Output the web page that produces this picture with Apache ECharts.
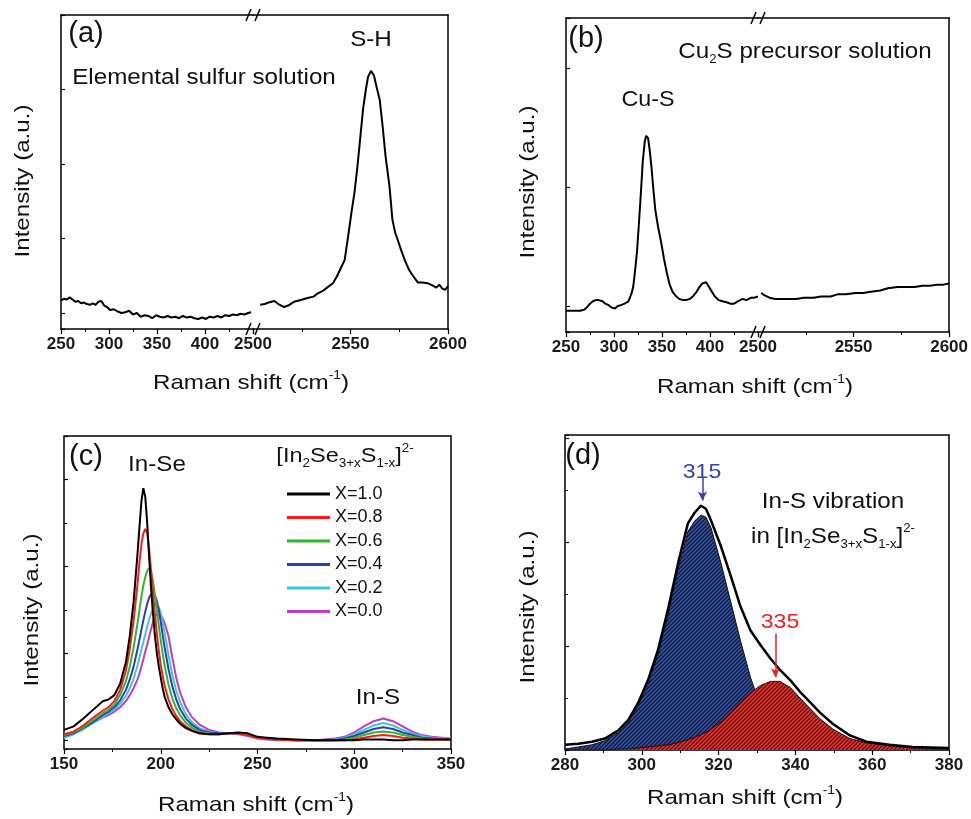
<!DOCTYPE html>
<html>
<head>
<meta charset="utf-8">
<script src="https://cdn.jsdelivr.net/npm/echarts@6/dist/echarts.min.js"></script>
<style>
html, body { margin: 0; padding: 0; background: #fff; }
#chart { width: 971px; height: 819px; }
</style>
</head>
<body>
<div id="chart"></div>
<script>
// (a) elemental sulfur solution, two pieces of the broken axis
var aLeftX = [250,253,256,259,262,265,268,271,274,277,280,283,286,289,292,295,298,301,305,309,313,317,321,325,329,333,337,341,345,349,353,357,361,365,369,373,377,381,385,389,393,397,401,405,409,413,417,421,425,429,433,437,441,445,448];
var aLeftY = [0.17,0.19,0.18,0.21,0.18,0.15,0.16,0.13,0.14,0.12,0.11,0.13,0.11,0.15,0.16,0.10,0.08,0.04,0.05,0.02,0.00,0.01,0.03,-0.02,0.00,-0.05,-0.03,-0.04,-0.07,-0.03,-0.05,-0.06,-0.04,-0.06,-0.05,-0.07,-0.04,-0.06,-0.05,-0.07,-0.08,-0.06,-0.08,-0.05,-0.06,-0.04,-0.06,-0.03,-0.04,-0.02,-0.03,-0.01,-0.02,0.00,0.01];
var aRightX = [2503.7,2506,2508,2511,2513,2516,2518,2521,2524,2528,2531,2533,2536,2538,2541,2543,2545,2547,2549,2550.5,2552,2553.5,2555,2556.5,2558,2559,2560.5,2562,2563.5,2565,2566.5,2568,2570,2571.5,2573,2574.5,2576,2578,2580,2582,2584.5,2587,2589.5,2592,2594,2595.5,2597,2598.5,2600];
var aRightY = [0.11,0.12,0.14,0.16,0.12,0.08,0.10,0.15,0.17,0.20,0.22,0.26,0.30,0.34,0.40,0.49,0.60,0.71,1.07,1.35,1.61,1.95,2.35,2.75,3.02,3.17,3.25,3.19,3.02,2.86,2.50,2.10,1.70,1.25,1.07,0.96,0.84,0.70,0.58,0.50,0.41,0.41,0.40,0.37,0.34,0.38,0.33,0.31,0.36];

// (b) Cu2S precursor solution
var bLeftX = [250,258,265,269,272,275,278,281,284,288,291,294,297,301,304,308,311,315,318,320,322,324,326,328,330,332,333.5,335.5,337,339,341,343,346,349,352,355,358,361,365,368,372,375,379,382,386,389,392,396,399,402,405,409,413,418,421,425,429,434,438,443,446,450];
var bLeftY = [-0.04,-0.04,-0.04,-0.03,-0.01,0.02,0.04,0.05,0.05,0.04,0.02,0.01,-0.01,-0.02,0.00,0.01,0.02,0.04,0.10,0.16,0.30,0.46,0.70,0.95,1.22,1.38,1.43,1.41,1.32,1.17,0.98,0.81,0.66,0.54,0.40,0.28,0.18,0.12,0.08,0.06,0.05,0.05,0.06,0.08,0.12,0.16,0.19,0.20,0.16,0.12,0.08,0.05,0.04,0.03,0.02,0.02,0.04,0.06,0.05,0.07,0.07,0.08];
var bRightX = [2501.7,2503.5,2506,2509,2513,2516,2520,2524,2529,2533,2538,2542,2546,2551,2555,2559,2564,2568,2573,2577,2582,2586,2590,2594,2597,2600];
var bRightY = [0.11,0.09,0.07,0.06,0.06,0.06,0.06,0.07,0.07,0.08,0.08,0.10,0.10,0.11,0.11,0.12,0.13,0.15,0.16,0.16,0.16,0.17,0.17,0.18,0.18,0.19];

// (c) [In2Se3+xS1-x]2- series
var cNames = ['X=1.0','X=0.8','X=0.6','X=0.4','X=0.2','X=0.0'];
var cColors = ['#000000','#ff1a1a','#2db82d','#2f3fa8','#3cc8dc','#c23cc2'];
var cX = [150,155,160,165,170,173,176,179,182,184,186,188,189,190,191,192,193,194,195,196,197,198,199,200,201,202,204,206,208,210,213,216,220,225,230,235,240,245,250,255,260,270,280,290,295,300,305,310,315,320,325,330,335,340,350];
var cY10 = [0.12,0.16,0.25,0.35,0.45,0.47,0.52,0.65,0.90,1.20,1.60,2.15,2.45,2.75,2.90,2.80,2.50,2.10,1.75,1.45,1.20,1.00,0.85,0.72,0.60,0.50,0.38,0.30,0.24,0.19,0.14,0.11,0.08,0.07,0.07,0.08,0.09,0.08,0.04,0.03,0.02,0.01,0.00,0.00,0.00,0.00,0.01,0.01,0.01,0.00,0.00,0.01,0.01,0.01,0.01];
var cY08 = [0.07,0.10,0.17,0.26,0.34,0.38,0.45,0.58,0.80,1.05,1.38,1.80,2.05,2.25,2.38,2.43,2.38,2.20,1.95,1.70,1.45,1.22,1.03,0.87,0.74,0.63,0.47,0.36,0.28,0.22,0.16,0.12,0.08,0.07,0.07,0.08,0.08,0.06,0.03,0.02,0.01,0.00,0.00,0.00,0.00,0.01,0.03,0.05,0.06,0.05,0.03,0.02,0.01,0.01,0.01];
var cY06 = [0.06,0.09,0.15,0.23,0.31,0.35,0.41,0.52,0.68,0.85,1.07,1.35,1.50,1.65,1.78,1.88,1.95,1.98,1.94,1.83,1.67,1.50,1.32,1.15,1.00,0.86,0.64,0.48,0.37,0.29,0.20,0.15,0.10,0.08,0.07,0.08,0.08,0.06,0.03,0.02,0.01,0.00,0.00,0.00,0.01,0.03,0.06,0.09,0.10,0.09,0.06,0.04,0.02,0.01,0.01];
var cY04 = [0.05,0.08,0.14,0.21,0.29,0.33,0.38,0.46,0.58,0.70,0.85,1.05,1.16,1.27,1.38,1.48,1.57,1.64,1.68,1.70,1.67,1.60,1.50,1.36,1.21,1.07,0.82,0.62,0.47,0.36,0.25,0.18,0.12,0.09,0.08,0.08,0.08,0.06,0.03,0.02,0.01,0.00,0.00,0.00,0.02,0.05,0.09,0.13,0.15,0.13,0.09,0.06,0.03,0.02,0.01];
var cY02 = [0.03,0.07,0.13,0.20,0.27,0.31,0.35,0.42,0.51,0.60,0.71,0.86,0.95,1.04,1.13,1.22,1.31,1.39,1.46,1.51,1.55,1.56,1.53,1.46,1.36,1.24,0.98,0.75,0.57,0.44,0.30,0.21,0.14,0.10,0.08,0.08,0.08,0.06,0.03,0.02,0.01,0.00,0.00,0.01,0.03,0.07,0.12,0.17,0.20,0.17,0.12,0.08,0.05,0.03,0.02];
var cY00 = [0.04,0.08,0.14,0.20,0.26,0.29,0.33,0.38,0.45,0.52,0.60,0.70,0.77,0.85,0.93,1.02,1.10,1.19,1.28,1.36,1.42,1.45,1.46,1.44,1.40,1.35,1.20,0.95,0.72,0.55,0.38,0.27,0.18,0.12,0.09,0.08,0.07,0.05,0.02,0.01,0.00,0.00,0.00,0.02,0.04,0.09,0.16,0.22,0.25,0.22,0.16,0.10,0.06,0.04,0.02];
var cYs = [cY10, cY08, cY06, cY04, cY02, cY00];

// (d) In-S band and its two fitted components
var dX = [280,283.5,287,290.4,293.9,296.5,299,301.6,304.2,306.8,309.4,312,313.7,315.4,316.7,318,320.6,323.2,325.7,328.3,330.9,333.5,336,338.7,341.2,343.8,346.4,349.8,354.2,358.5,364.5,370.5,380];
var dTotal = [0.05,0.06,0.08,0.11,0.19,0.29,0.45,0.67,0.96,1.35,1.79,2.18,2.28,2.35,2.32,2.21,1.96,1.67,1.38,1.15,1.01,0.88,0.77,0.67,0.56,0.46,0.36,0.25,0.14,0.08,0.05,0.03,0.02];
var d315 = [0.01,0.03,0.05,0.09,0.17,0.27,0.42,0.63,0.92,1.30,1.73,2.10,2.20,2.26,2.24,2.14,1.80,1.42,1.05,0.70,0.42,0.22,0.10,0.04,0.01,0,0,0,0,0,0,0,0];
var d335 = [0,0,0,0,0.01,0.01,0.02,0.03,0.04,0.05,0.07,0.10,0.12,0.15,0.17,0.20,0.27,0.36,0.46,0.55,0.62,0.66,0.66,0.60,0.50,0.40,0.30,0.20,0.11,0.07,0.04,0.02,0.01];

var FONT = "'Liberation Sans', Arial, sans-serif";

function pairs(xs, ys) {
  return xs.map(function (x, i) { return [x, ys[i]]; });
}

// hatch pattern for the fitted peaks
function hatch(bg, ink) {
  var c = document.createElement('canvas');
  c.width = 4; c.height = 4;
  var g = c.getContext('2d');
  g.fillStyle = bg;
  g.fillRect(0, 0, 4, 4);
  g.strokeStyle = ink;
  g.lineWidth = 1.2;
  g.beginPath();
  g.moveTo(-1, 5); g.lineTo(5, -1);
  g.moveTo(-1, 1); g.lineTo(1, -1);
  g.moveTo(3, 5); g.lineTo(5, 3);
  g.stroke();
  return c;
}

var black = { color: '#000', width: 1.5 };

function bottomX(gi, min, max, interval, hideMax, lineOn) {
  return {
    type: 'value', gridIndex: gi, position: 'bottom', min: min, max: max, interval: interval,
    axisLine: { show: lineOn, onZero: false, lineStyle: black },
    axisTick: { show: true, inside: false, length: 5, lineStyle: { color: '#000', width: 1.2 } },
    minorTick: { show: true, splitNumber: 2, length: 3, lineStyle: { color: '#000', width: 1 } },
    splitLine: { show: false },
    axisLabel: {
      show: true, margin: 7, color: '#1a1a1a', fontFamily: FONT, fontSize: 17, fontWeight: 'bold',
      showMaxLabel: !hideMax, showMinLabel: true,
      formatter: function (v) { return (hideMax && v === max) ? '' : String(v); }
    }
  };
}
function topX(gi, min, max) {
  return {
    type: 'value', gridIndex: gi, position: 'top', min: min, max: max,
    axisLine: { show: true, onZero: false, lineStyle: black },
    axisTick: { show: false }, axisLabel: { show: false }, splitLine: { show: false }
  };
}
function leftY(gi, min, max, split, interval, minor, lineOn) {
  var ax = {
    type: 'value', gridIndex: gi, position: 'left', min: min, max: max,
    axisLine: { show: lineOn, onZero: false, lineStyle: black },
    axisTick: { show: true, inside: true, length: 4, lineStyle: { color: '#000', width: 1.2 } },
    minorTick: { show: minor, splitNumber: 2, length: 3, lineStyle: { color: '#000', width: 1 } },
    axisLabel: { show: false }, splitLine: { show: false }
  };
  if (interval) ax.interval = interval; else ax.splitNumber = split;
  return ax;
}
function rightY(gi, min, max) {
  return {
    type: 'value', gridIndex: gi, position: 'right', min: min, max: max,
    axisLine: { show: true, onZero: false, lineStyle: black },
    axisTick: { show: false }, axisLabel: { show: false }, splitLine: { show: false }
  };
}

function line(xi, data, color, width, z) {
  return {
    type: 'line', xAxisIndex: xi, yAxisIndex: xi, data: data, showSymbol: false, symbol: 'none',
    z: z || 2, lineStyle: { color: color, width: width }, itemStyle: { color: color }, silent: true
  };
}

var rich = {
  sub: { fontSize: 12, lineHeight: 12, verticalAlign: 'bottom', fontFamily: FONT },
  sup: { fontSize: 12, lineHeight: 12, verticalAlign: 'top', fontFamily: FONT }
};

function txt(x, y, text, size, color, rot, sx) {
  return {
    type: 'text', x: x, y: y, rotation: rot || 0, scaleX: sx || 1, silent: true,
    style: {
      text: text, fill: color || '#111', fontSize: size, fontFamily: FONT,
      align: 'center', verticalAlign: 'middle', lineHeight: size + 6, rich: rich
    }
  };
}

function breakMark(x, y) {
  return [
    { type: 'rect', shape: { x: x - 3, y: y - 2, width: 6, height: 4 }, style: { fill: '#fff' }, silent: true },
    { type: 'line', shape: { x1: x - 7, y1: y + 6, x2: x - 2, y2: y - 6 }, style: { stroke: '#000', lineWidth: 1.5 }, silent: true },
    { type: 'line', shape: { x1: x + 2, y1: y + 6, x2: x + 7, y2: y - 6 }, style: { stroke: '#000', lineWidth: 1.5 }, silent: true }
  ];
}

var series = [];
series.push(line(0, pairs(aLeftX, aLeftY), '#000', 2));
series.push(line(1, pairs(aRightX, aRightY), '#000', 2));
series.push(line(2, pairs(bLeftX, bLeftY), '#000', 2));
series.push(line(3, pairs(bRightX, bRightY), '#000', 2));
for (var k = cNames.length - 1; k >= 0; k--) {
  var s = line(4, pairs(cX, cYs[k]), cColors[k], 2, 2 + (cNames.length - k));
  s.name = cNames[k];
  series.push(s);
}
var blueFill = line(5, pairs(dX, d315), '#111', 1, 2);
blueFill.areaStyle = { color: { image: hatch('#33509e', '#0c1430'), repeat: 'repeat' }, opacity: 1 };
series.push(blueFill);
var redFill = line(5, pairs(dX, d335), '#2a0a0a', 1, 3);
redFill.areaStyle = { color: { image: hatch('#e0342a', '#5a0c0c'), repeat: 'repeat' }, opacity: 1 };
series.push(redFill);
var total = line(5, pairs(dX, dTotal), '#000', 2.5, 4);
total.markLine = {
  silent: true, symbol: ['none', 'arrow'], symbolSize: [7, 9], label: { show: false }, animation: false,
  data: [
    [{ coord: [315.8, 2.62], lineStyle: { color: '#3344aa', width: 1.5, type: 'solid' }, itemStyle: { color: '#3344aa' } }, { coord: [315.8, 2.4] }],
    [{ coord: [334.8, 1.12], lineStyle: { color: '#ee2222', width: 1.5, type: 'solid' }, itemStyle: { color: '#ee2222' } }, { coord: [334.8, 0.7] }]
  ]
};
series.push(total);

var TS = 1.1;   // the original lettering is a little wider than Liberation Sans
var AS = 1.15;
var graphic = [].concat(
  breakMark(253, 15), breakMark(253, 329), breakMark(758, 18), breakMark(758, 332),
  [
    txt(86, 34, '(a)', 29),
    txt(371, 40, 'S-H', 22, null, 0, TS),
    txt(204, 78, 'Elemental sulfur solution', 22, null, 0, TS),
    txt(251, 383, 'Raman shift (cm{sup|-1})', 21, null, 0, AS),
    txt(23, 181, 'Intensity (a.u.)', 21, '#111', Math.PI / 2, AS),

    txt(586, 39, '(b)', 29),
    txt(805, 52, 'Cu{sub|2}S precursor solution', 22, null, 0, TS),
    txt(648, 100, 'Cu-S', 22, null, 0, 1.06),
    txt(755, 387, 'Raman shift (cm{sup|-1})', 21, null, 0, AS),
    txt(528, 182, 'Intensity (a.u.)', 21, '#111', Math.PI / 2, AS),

    txt(86, 457, '(c)', 29),
    txt(157, 465, 'In-Se', 22, null, 0, TS),
    txt(345, 456, '[In{sub|2}Se{sub|3+x}S{sub|1-x}]{sup|2-}', 21, null, 0, 1.12),
    txt(378, 698, 'In-S', 22, null, 0, TS),
    txt(256, 805, 'Raman shift (cm{sup|-1})', 21, null, 0, AS),
    txt(32, 610, 'Intensity (a.u.)', 21, '#111', Math.PI / 2, AS),

    txt(583, 456, '(d)', 29),
    txt(702, 472, '315', 21, '#3344aa', 0, TS),
    txt(780, 622, '335', 21, '#ee2222', 0, TS),
    txt(833, 502, 'In-S vibration', 22, null, 0, TS),
    txt(833, 537, 'in [In{sub|2}Se{sub|3+x}S{sub|1-x}]{sup|2-}', 22, null, 0, TS),
    txt(745, 798, 'Raman shift (cm{sup|-1})', 21, null, 0, AS),
    txt(528, 607, 'Intensity (a.u.)', 21, '#111', Math.PI / 2, AS)
  ]
);

var option = {
  animation: false,
  backgroundColor: '#fff',
  textStyle: { fontFamily: FONT },
  grid: [
    { left: 61, top: 15, width: 192, height: 314 },
    { left: 253, top: 15, width: 195, height: 314 },
    { left: 566, top: 18, width: 192, height: 314 },
    { left: 758, top: 18, width: 193, height: 314 },
    { left: 64, top: 436, width: 387, height: 313, show: true, borderColor: '#000', borderWidth: 1.5 },
    { left: 565, top: 435, width: 384, height: 315, show: true, borderColor: '#000', borderWidth: 1.5 }
  ],
  xAxis: [
    bottomX(0, 250, 450, 50, true, true),
    bottomX(1, 2500, 2600, 50, false, true),
    bottomX(2, 250, 450, 50, true, true),
    bottomX(3, 2500, 2600, 50, false, true),
    bottomX(4, 150, 350, 50, false, false),
    bottomX(5, 280, 380, 20, false, false),
    topX(0, 250, 450), topX(1, 2500, 2600), topX(2, 250, 450), topX(3, 2500, 2600)
  ],
  yAxis: [
    leftY(0, -0.215, 4, 4, null, false, true),
    rightY(1, -0.215, 4),
    leftY(2, -0.218, 2.42, 3, null, false, true),
    rightY(3, -0.218, 2.42),
    leftY(4, -0.1, 3.5, 4, null, true, false),
    leftY(5, 0, 3.03, 3, 1, true, false)
  ],
  legend: {
    data: cNames, orient: 'vertical', left: 282, top: 480, icon: 'rect',
    itemWidth: 43, itemHeight: 3, itemGap: 5.5, selectedMode: false,
    textStyle: { fontFamily: FONT, fontSize: 18, color: '#111' }
  },
  graphic: graphic,
  series: series
};

var chart = echarts.init(document.getElementById('chart'));
chart.setOption(option);
window.addEventListener('resize', function () { chart.resize(); });
</script>
</body>
</html>
